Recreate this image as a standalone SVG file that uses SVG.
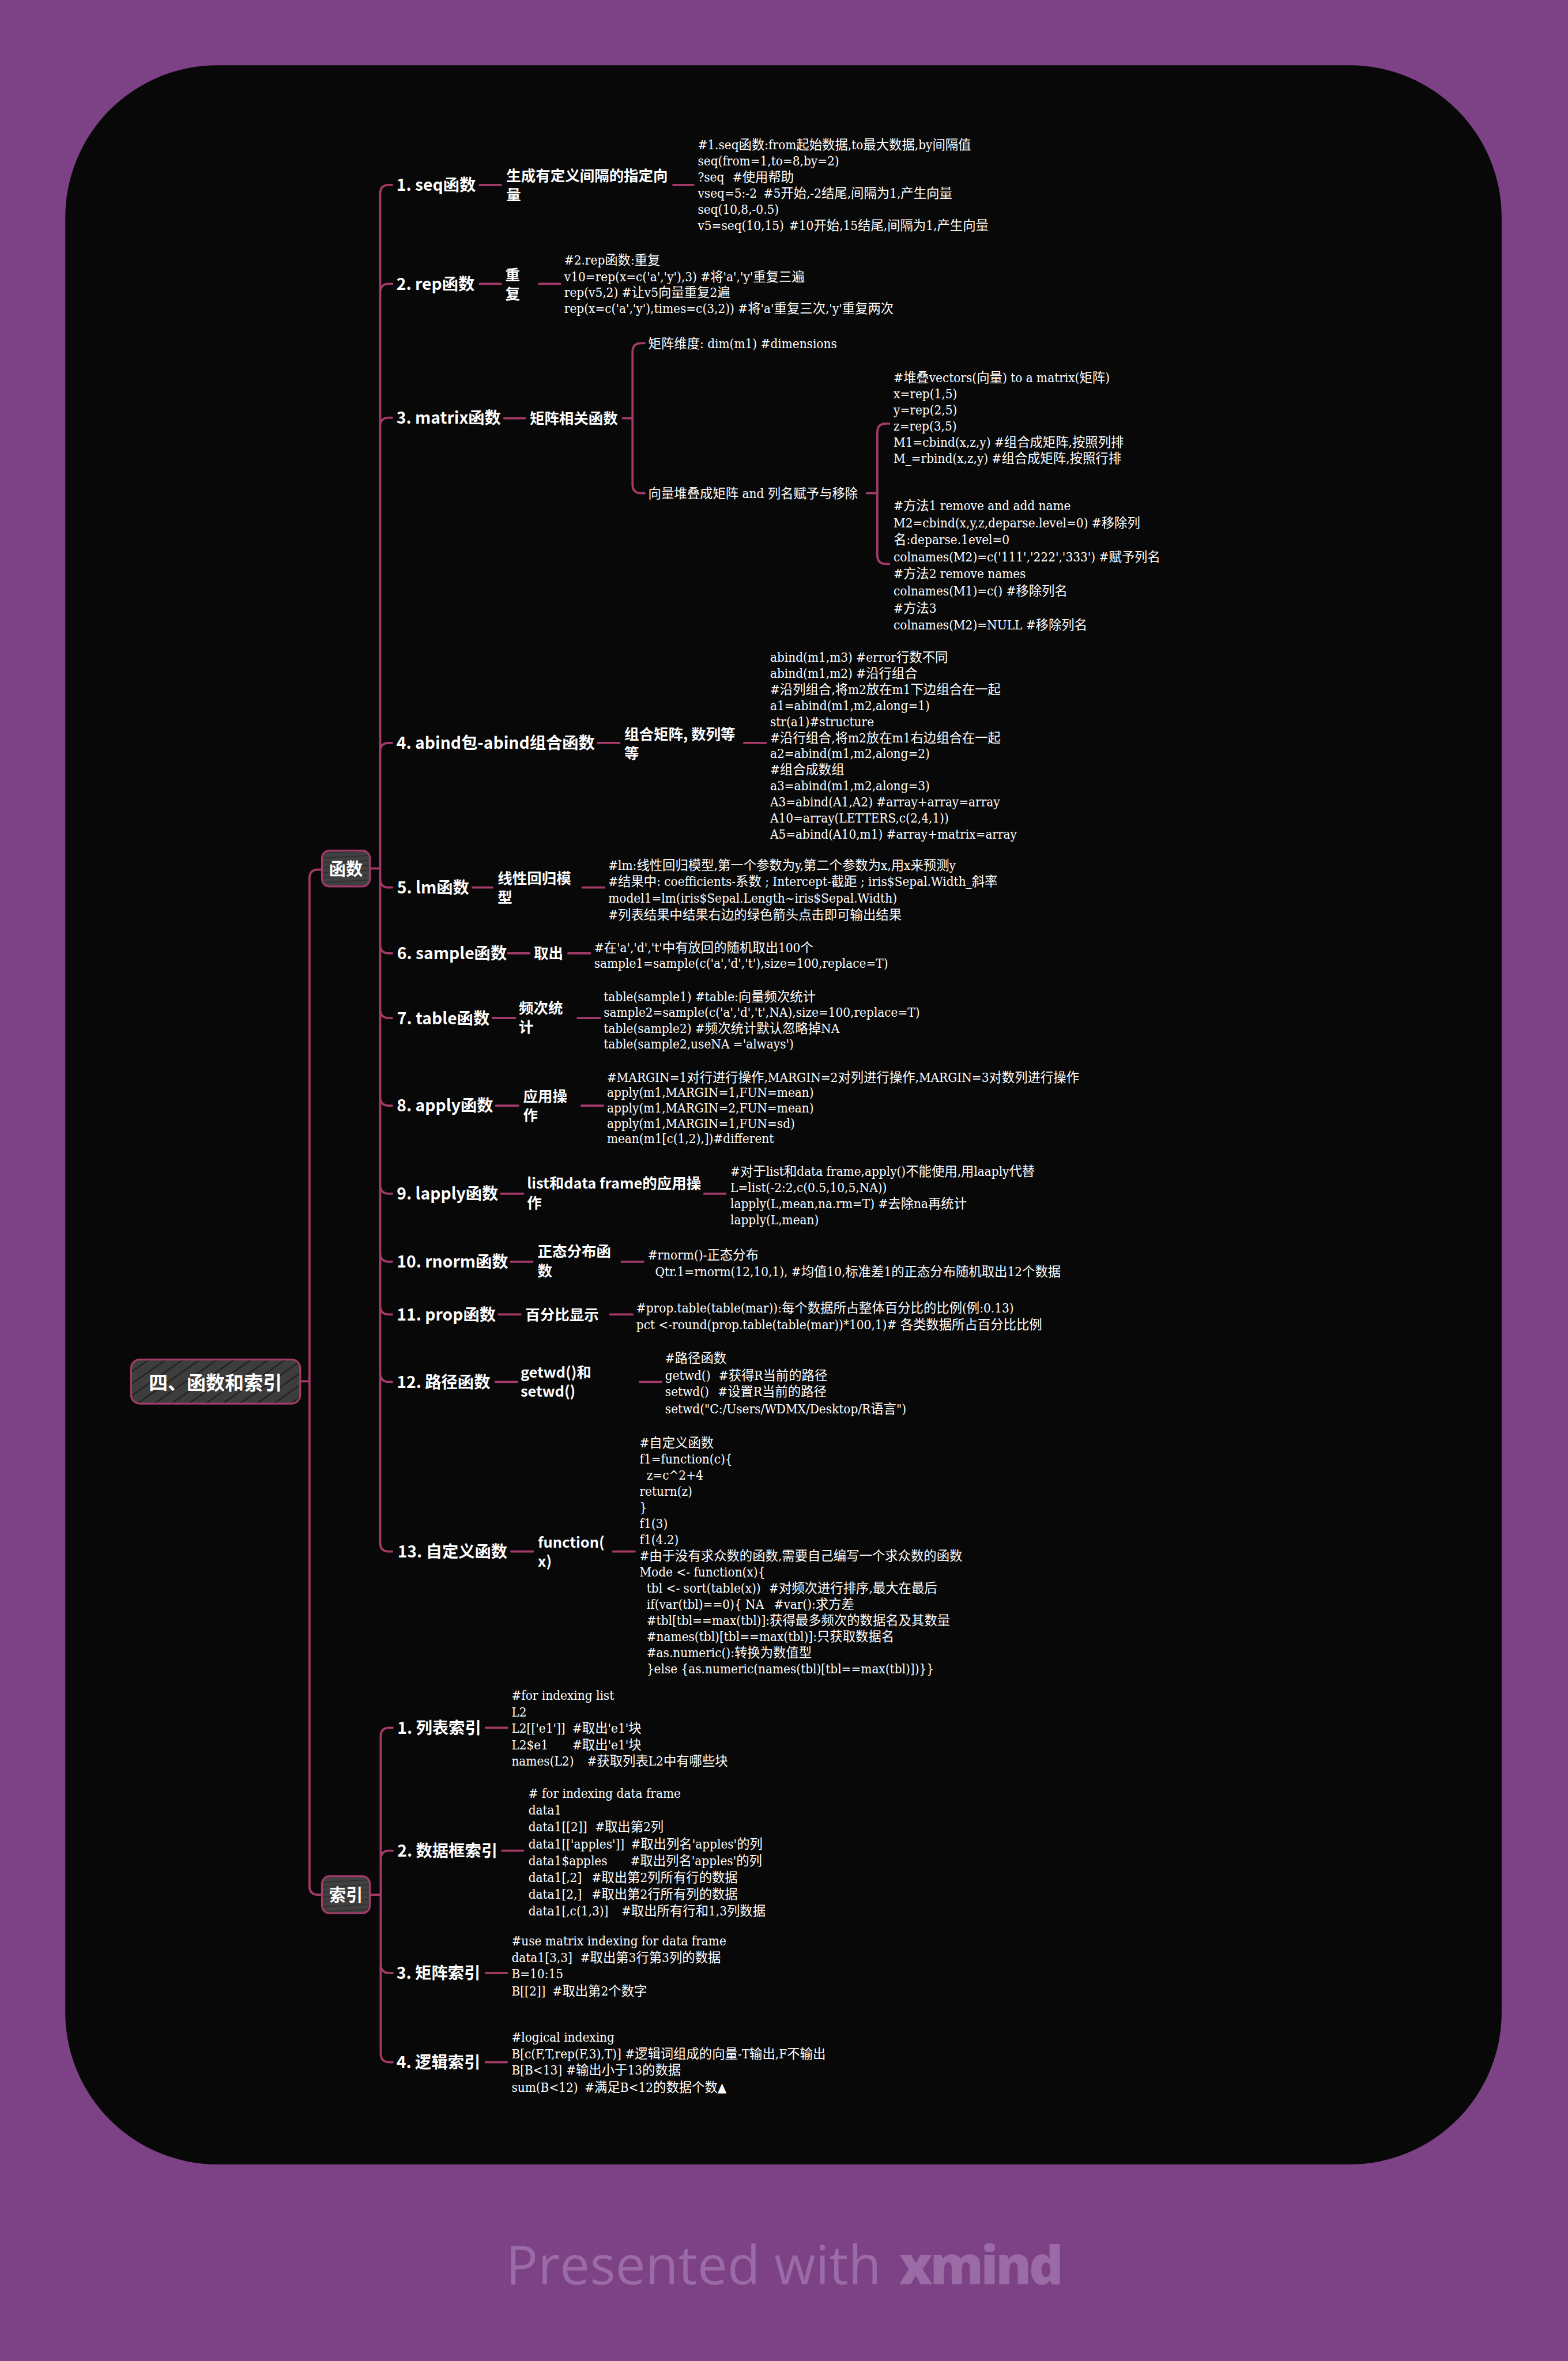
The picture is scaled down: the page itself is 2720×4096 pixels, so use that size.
<svg xmlns="http://www.w3.org/2000/svg" width="2720" height="4096" viewBox="0 0 2720 4096">
<defs>
<style>
.l2{font-family:"Noto Sans CJK SC","Noto Sans",sans-serif;font-weight:700;font-size:30px;fill:#fff}
.l3{font-family:"Noto Sans CJK SC","Noto Sans",sans-serif;font-weight:700;font-size:27px;fill:#fff}
.d{font-family:"DejaVu Serif","Noto Sans CJK SC",serif;font-stretch:condensed;font-size:23.7px;fill:#fff}
.c{fill:none;stroke:#A33A68;stroke-width:4;stroke-linecap:round;stroke-linejoin:round}
.box{stroke:#A33A68;stroke-width:3.5}
.rt{font-family:"Noto Sans CJK SC","Noto Sans",sans-serif;font-weight:700;fill:#fff;text-anchor:middle}
</style>
<pattern id="hd" width="18" height="18" patternUnits="userSpaceOnUse" patternTransform="rotate(-35)">
<rect width="18" height="18" fill="#3d3d3d"/><line x1="0" y1="9" x2="18" y2="9" stroke="#1b1b1b" stroke-width="2"/>
</pattern>
<pattern id="hh" width="20" height="9" patternUnits="userSpaceOnUse" patternTransform="rotate(-3)">
<rect width="20" height="9" fill="#404040"/><line x1="0" y1="4.5" x2="20" y2="4.5" stroke="#2a2a2a" stroke-width="1.5"/>
</pattern>
</defs>
<g transform="scale(0.94346)">
<rect x="0" y="0" width="2883" height="4342" fill="#7C4285"/>
<rect x="120" y="120" width="2641" height="3860" rx="280" fill="#080808"/>

<g id="connectors">
<path class="c" d="M552,2540 H569 M569,1615 V3468 M569,1615 Q569,1599 585,1599 H592 M569,3468 Q569,3484 585,3484 H592"/>
<path class="c" d="M681,1597 H699 M699,356 V2837 M699,356 Q699,340 715,340 H721 M699,538 Q699,522 715,522 H721 M699,784 Q699,768 715,768 H721 M699,1382 Q699,1366 715,1366 H721 M699,1616 Q699,1632 715,1632 H721 M699,1737 Q699,1753 715,1753 H721 M699,1856 Q699,1872 715,1872 H721 M699,2017 Q699,2033 715,2033 H721 M699,2179 Q699,2195 715,2195 H721 M699,2304 Q699,2320 715,2320 H721 M699,2401 Q699,2417 715,2417 H721 M699,2525 Q699,2541 715,2541 H721 M699,2837 Q699,2853 715,2853 H721"/>
<path class="c" d="M680,3484 H700 M700,3193 V3776 M700,3193 Q700,3177 716,3177 H722 M700,3419 Q700,3403 716,3403 H722 M700,3612 Q700,3628 716,3628 H722 M700,3776 Q700,3792 716,3792 H722"/>
<path class="c" d="M1145,769 H1163 M1163,647 V891 M1163,647 Q1163,631 1179,631 H1185 M1163,891 Q1163,907 1179,907 H1185"/>
<path class="c" d="M1594,907 H1613 M1613,795 V1021 M1613,795 Q1613,779 1629,779 H1635 M1613,1021 Q1613,1037 1629,1037 H1635"/>
<path class="c" d="M882,340 H921 M1238,340 H1275 M882,522 H921 M991,522 H1030 M927,769 H965 M1099,1366 H1139 M1368,1366 H1408 M869,1632 H905 M1071,1632 H1111 M934,1753 H973 M1045,1753 H1085 M906,1872 H947 M1062,1872 H1103 M912,2033 H953 M1069,2033 H1109 M921,2195 H962 M1295,2195 H1334 M939,2320 H979 M1143,2320 H1183 M917,2417 H957 M1122,2417 H1163 M911,2541 H951 M1176,2541 H1216 M940,2853 H980 M1127,2853 H1167 M893,3177 H933 M923,3403 H962 M893,3628 H932 M893,3792 H932"/>
</g>

<g id="root">
<rect class="box" x="241" y="2500" width="311" height="81" rx="16" fill="url(#hd)"/>
<text class="rt" x="396" y="2556" font-size="35">四、函数和索引</text>
</g>
<g id="hanshu">
<rect class="box" x="592" y="1564" width="88" height="66" rx="14" fill="url(#hh)"/>
<text class="rt" x="636" y="1609" font-size="31">函数</text>
</g>
<g id="suoyin">
<rect class="box" x="592" y="3450" width="88" height="68" rx="14" fill="url(#hh)"/>
<text class="rt" x="636" y="3496" font-size="31">索引</text>
</g>

<g id="n-seq">
<text class="l2" x="729" y="351">1. seq函数</text>
<text class="l3" x="931" y="333">生成有定义间隔的指定向</text>
<text class="l3" x="931" y="368">量</text>
<text class="d" x="1283" y="275">#1.seq函数:from起始数据,to最大数据,by间隔值</text>
<text class="d" x="1283" y="304.6">seq(from=1,to=8,by=2)</text>
<text class="d" y="334.2"><tspan x="1283">?seq</tspan><tspan x="1347">#使用帮助</tspan></text>
<text class="d" y="363.8"><tspan x="1283">vseq=5:-2</tspan><tspan x="1404">#5开始,-2结尾,间隔为1,产生向量</tspan></text>
<text class="d" x="1283" y="393.4">seq(10,8,-0.5)</text>
<text class="d" y="423"><tspan x="1283">v5=seq(10,15)</tspan><tspan x="1451">#10开始,15结尾,间隔为1,产生向量</tspan></text>
</g>

<g id="n-rep">
<text class="l2" x="729" y="533">2. rep函数</text>
<text class="l3" x="929" y="515">重</text>
<text class="l3" x="929" y="550">复</text>
<text class="d" x="1037.5" y="487">#2.rep函数:重复</text>
<text class="d" x="1037.5" y="517">v10=rep(x=c('a','y'),3) #将'a','y'重复三遍</text>
<text class="d" x="1037.5" y="546">rep(v5,2) #让v5向量重复2遍</text>
<text class="d" x="1037.5" y="576">rep(x=c('a','y'),times=c(3,2)) #将'a'重复三次,'y'重复两次</text>
</g>

<g id="n-matrix">
<text class="l2" x="729" y="779">3. matrix函数</text>
<text class="l3" x="974" y="779">矩阵相关函数</text>
<text class="d" x="1192" y="640">矩阵维度: dim(m1) #dimensions</text>
<text class="d" x="1192" y="916">向量堆叠成矩阵 and 列名赋予与移除</text>
<text class="d" x="1643" y="703">#堆叠vectors(向量) to a matrix(矩阵)</text>
<text class="d" x="1643" y="732.6">x=rep(1,5)</text>
<text class="d" x="1643" y="762.2">y=rep(2,5)</text>
<text class="d" x="1643" y="791.8">z=rep(3,5)</text>
<text class="d" x="1643" y="821.4">M1=cbind(x,z,y) #组合成矩阵,按照列排</text>
<text class="d" x="1643" y="851">M_=rbind(x,z,y) #组合成矩阵,按照行排</text>
<text class="d" x="1643" y="938">#方法1 remove and add name</text>
<text class="d" x="1643" y="969.4">M2=cbind(x,y,z,deparse.level=0) #移除列</text>
<text class="d" x="1643" y="1000.8">名:deparse.1evel=0</text>
<text class="d" x="1643" y="1032.2">colnames(M2)=c('111','222','333') #赋予列名</text>
<text class="d" x="1643" y="1063.6">#方法2 remove names</text>
<text class="d" x="1643" y="1095">colnames(M1)=c() #移除列名</text>
<text class="d" x="1643" y="1126.4">#方法3</text>
<text class="d" x="1643" y="1157.8">colnames(M2)=NULL #移除列名</text>
</g>

<g id="n-abind">
<text class="l2" x="729" y="1377">4. abind包-abind组合函数</text>
<text class="l3" x="1148" y="1360">组合矩阵, 数列等</text>
<text class="l3" x="1148" y="1395">等</text>
<text class="d" x="1416" y="1217">abind(m1,m3) #error行数不同</text>
<text class="d" x="1416" y="1246.5">abind(m1,m2) #沿行组合</text>
<text class="d" x="1416" y="1276.1">#沿列组合,将m2放在m1下边组合在一起</text>
<text class="d" x="1416" y="1305.6">a1=abind(m1,m2,along=1)</text>
<text class="d" x="1416" y="1335.2">str(a1)#structure</text>
<text class="d" x="1416" y="1364.7">#沿行组合,将m2放在m1右边组合在一起</text>
<text class="d" x="1416" y="1394.3">a2=abind(m1,m2,along=2)</text>
<text class="d" x="1416" y="1423.8">#组合成数组</text>
<text class="d" x="1416" y="1453.4">a3=abind(m1,m2,along=3)</text>
<text class="d" x="1416" y="1483">A3=abind(A1,A2) #array+array=array</text>
<text class="d" x="1416" y="1512.5">A10=array(LETTERS,c(2,4,1))</text>
<text class="d" x="1416" y="1542">A5=abind(A10,m1) #array+matrix=array</text>
</g>

<g id="n-lm">
<text class="l2" x="730" y="1643">5. lm函数</text>
<text class="l3" x="915" y="1625">线性回归模</text>
<text class="l3" x="915" y="1660">型</text>
<text class="d" x="1118.5" y="1599">#lm:线性回归模型,第一个参数为y,第二个参数为x,用x来预测y</text>
<text class="d" x="1118.5" y="1629.5">#结果中: coefficients-系数 ; Intercept-截距 ; iris$Sepal.Width_斜率</text>
<text class="d" x="1118.5" y="1660">model1=lm(iris$Sepal.Length~iris$Sepal.Width)</text>
<text class="d" x="1118.5" y="1690.5">#列表结果中结果右边的绿色箭头点击即可输出结果</text>
</g>

<g id="n-sample">
<text class="l2" x="730" y="1764">6. sample函数</text>
<text class="l3" x="981.5" y="1763">取出</text>
<text class="d" x="1092.5" y="1751">#在'a','d','t'中有放回的随机取出100个</text>
<text class="d" x="1092.5" y="1780">sample1=sample(c('a','d','t'),size=100,replace=T)</text>
</g>

<g id="n-table">
<text class="l2" x="730" y="1883">7. table函数</text>
<text class="l3" x="954" y="1863">频次统</text>
<text class="l3" x="954" y="1898">计</text>
<text class="d" x="1110" y="1841">table(sample1) #table:向量频次统计</text>
<text class="d" x="1110" y="1870">sample2=sample(c('a','d','t',NA),size=100,replace=T)</text>
<text class="d" x="1110" y="1899">table(sample2) #频次统计默认忽略掉NA</text>
<text class="d" x="1110" y="1928">table(sample2,useNA ='always')</text>
</g>

<g id="n-apply">
<text class="l2" x="729.5" y="2044">8. apply函数</text>
<text class="l3" x="962" y="2026">应用操</text>
<text class="l3" x="962" y="2061">作</text>
<text class="d" x="1116" y="1989">#MARGIN=1对行进行操作,MARGIN=2对列进行操作,MARGIN=3对数列进行操作</text>
<text class="d" x="1116" y="2017.5">apply(m1,MARGIN=1,FUN=mean)</text>
<text class="d" x="1116" y="2046">apply(m1,MARGIN=2,FUN=mean)</text>
<text class="d" x="1116" y="2074">apply(m1,MARGIN=1,FUN=sd)</text>
<text class="d" x="1116" y="2102">mean(m1[c(1,2),])#different</text>
</g>

<g id="n-lapply">
<text class="l2" x="729.5" y="2206">9. lapply函数</text>
<text class="l3" x="969" y="2186">list和data frame的应用操</text>
<text class="l3" x="969" y="2222">作</text>
<text class="d" x="1343" y="2162">#对于list和data frame,apply()不能使用,用laaply代替</text>
<text class="d" x="1343" y="2192">L=list(-2:2,c(0.5,10,5,NA))</text>
<text class="d" x="1343" y="2222">lapply(L,mean,na.rm=T) #去除na再统计</text>
<text class="d" x="1343" y="2251">lapply(L,mean)</text>
</g>

<g id="n-rnorm">
<text class="l2" x="729.5" y="2331">10. rnorm函数</text>
<text class="l3" x="988.5" y="2311">正态分布函</text>
<text class="l3" x="988.5" y="2347">数</text>
<text class="d" x="1191" y="2316">#rnorm()-正态分布</text>
<text class="d" x="1204.5" y="2347">Qtr.1=rnorm(12,10,1), #均值10,标准差1的正态分布随机取出12个数据</text>
</g>

<g id="n-prop">
<text class="l2" x="729.5" y="2428">11. prop函数</text>
<text class="l3" x="966" y="2427">百分比显示</text>
<text class="d" x="1170" y="2414">#prop.table(table(mar)):每个数据所占整体百分比的比例(例:0.13)</text>
<text class="d" x="1170" y="2444">pct &lt;-round(prop.table(table(mar))*100,1)# 各类数据所占百分比比例</text>
</g>

<g id="n-path">
<text class="l2" x="729.5" y="2552">12. 路径函数</text>
<text class="l3" x="957" y="2533">getwd()和</text>
<text class="l3" x="957" y="2568">setwd()</text>
<text class="d" x="1223" y="2506">#路径函数</text>
<text class="d" y="2537"><tspan x="1223">getwd()</tspan><tspan x="1321.5">#获得R当前的路径</tspan></text>
<text class="d" y="2567"><tspan x="1223">setwd()</tspan><tspan x="1320">#设置R当前的路径</tspan></text>
<text class="d" x="1223" y="2599">setwd("C:/Users/WDMX/Desktop/R语言")</text>
</g>

<g id="n-function">
<text class="l2" x="731" y="2864">13. 自定义函数</text>
<text class="l3" x="989" y="2846">function(</text>
<text class="l3" x="989" y="2881">x)</text>
<text class="d" x="1176" y="2661">#自定义函数</text>
<text class="d" x="1176" y="2690.7">f1=function(c){</text>
<text class="d" x="1189" y="2720.4">z=c^2+4</text>
<text class="d" x="1176" y="2750.1">return(z)</text>
<text class="d" x="1176" y="2779.8">}</text>
<text class="d" x="1176" y="2809.5">f1(3)</text>
<text class="d" x="1176" y="2839.2">f1(4.2)</text>
<text class="d" x="1176" y="2868.9">#由于没有求众数的函数,需要自己编写一个求众数的函数</text>
<text class="d" x="1176" y="2898.6">Mode &lt;- function(x){</text>
<text class="d" y="2928.3"><tspan x="1189">tbl &lt;- sort(table(x))</tspan><tspan x="1414">#对频次进行排序,最大在最后</tspan></text>
<text class="d" y="2958"><tspan x="1189">if(var(tbl)==0){ NA</tspan><tspan x="1423">#var():求方差</tspan></text>
<text class="d" x="1189" y="2987.7">#tbl[tbl==max(tbl)]:获得最多频次的数据名及其数量</text>
<text class="d" x="1189" y="3017.4">#names(tbl)[tbl==max(tbl)]:只获取数据名</text>
<text class="d" x="1189" y="3047.1">#as.numeric():转换为数值型</text>
<text class="d" x="1189" y="3076.8">}else {as.numeric(names(tbl)[tbl==max(tbl)])}}</text>
</g>

<g id="n-list">
<text class="l2" x="730.5" y="3188">1. 列表索引</text>
<text class="d" x="940.6" y="3126">#for indexing list</text>
<text class="d" x="940.6" y="3156.3">L2</text>
<text class="d" y="3186.5"><tspan x="940.6">L2[['e1']]</tspan><tspan x="1052.5">#取出'e1'块</tspan></text>
<text class="d" y="3216.8"><tspan x="940.6">L2$e1</tspan><tspan x="1052.5">#取出'e1'块</tspan></text>
<text class="d" y="3247"><tspan x="940.6">names(L2)</tspan><tspan x="1079.5">#获取列表L2中有哪些块</tspan></text>
</g>

<g id="n-df">
<text class="l2" x="730.5" y="3414">2. 数据框索引</text>
<text class="d" x="971.6" y="3306"># for indexing data frame</text>
<text class="d" x="971.6" y="3336.9">data1</text>
<text class="d" y="3367.8"><tspan x="971.6">data1[[2]]</tspan><tspan x="1094">#取出第2列</tspan></text>
<text class="d" y="3398.7"><tspan x="971.6">data1[['apples']]</tspan><tspan x="1160">#取出列名'apples'的列</tspan></text>
<text class="d" y="3429.6"><tspan x="971.6">data1$apples</tspan><tspan x="1159">#取出列名'apples'的列</tspan></text>
<text class="d" y="3460.5"><tspan x="971.6">data1[,2]</tspan><tspan x="1088">#取出第2列所有行的数据</tspan></text>
<text class="d" y="3491.4"><tspan x="971.6">data1[2,]</tspan><tspan x="1088">#取出第2行所有列的数据</tspan></text>
<text class="d" y="3522.3"><tspan x="971.6">data1[,c(1,3)]</tspan><tspan x="1142.6">#取出所有行和1,3列数据</tspan></text>
</g>

<g id="n-mat">
<text class="l2" x="729" y="3639">3. 矩阵索引</text>
<text class="d" x="940.6" y="3577">#use matrix indexing for data frame</text>
<text class="d" y="3608"><tspan x="940.6">data1[3,3]</tspan><tspan x="1067">#取出第3行第3列的数据</tspan></text>
<text class="d" x="940.6" y="3638">B=10:15</text>
<text class="d" y="3669"><tspan x="940.6">B[[2]]</tspan><tspan x="1016">#取出第2个数字</tspan></text>
</g>

<g id="n-logic">
<text class="l2" x="729" y="3803">4. 逻辑索引</text>
<text class="d" x="940.6" y="3754">#logical indexing</text>
<text class="d" x="940.6" y="3785">B[c(F,T,rep(F,3),T)] #逻辑词组成的向量-T输出,F不输出</text>
<text class="d" y="3815"><tspan x="940.6">B[B&lt;13]</tspan><tspan x="1041">#输出小于13的数据</tspan></text>
<text class="d" y="3846"><tspan x="940.6">sum(B&lt;12)</tspan><tspan x="1075">#满足B&lt;12的数据个数▲</tspan></text>
</g>

<g id="footer">
<text x="930" y="4201" font-family="Open Sans, Noto Sans, sans-serif" font-size="98" fill="#9A6BA5" textLength="690">Presented with</text>
<text x="1653" y="4201" font-family="Open Sans, Noto Sans, sans-serif" font-size="98" font-weight="800" fill="#9A6BA5" textLength="302">xmind</text>
</g>
</g>
</svg>
